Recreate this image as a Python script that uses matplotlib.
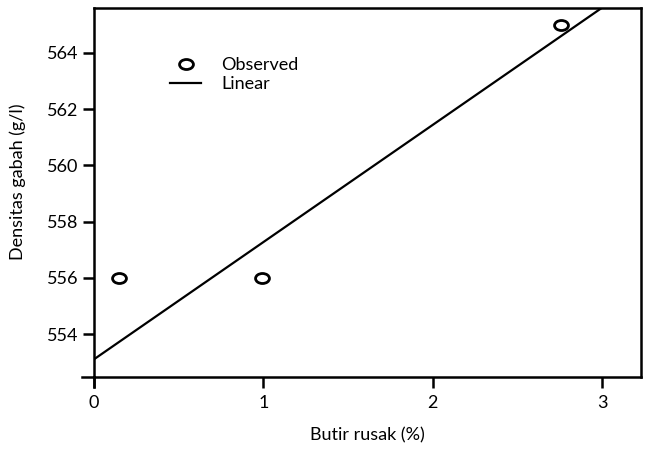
import numpy as np
import matplotlib
matplotlib.use('Agg')
import matplotlib.pyplot as plt
from matplotlib.path import Path
from matplotlib.transforms import Affine2D

plt.rcParams.update({'font.size': 13, 'font.family': ['Lato', 'DejaVu Sans']})

# observed points
butir_rusak = [0.15, 0.99, 2.76]
densitas = [556.0, 556.0, 565.0]

# linear fit (intercept, slope)
intercept = 553.1
slope = 4.17

xticks = [0, 1, 2, 3]
yticks = [554, 556, 558, 560, 562, 564]

# slightly flattened open circle, like the SPSS marker
oval = Path.unit_circle().transformed(Affine2D().scale(1.0, 0.72))

fig = plt.figure(figsize=(6.47, 4.49), dpi=100)
ax = fig.add_axes([94 / 647, 1 - 377 / 449, (641 - 94) / 647, (377 - 8) / 449])

xmin, xmax = 0, 3.23
ymin, ymax = 552.47, 565.6

xs = np.array([xmin, xmax])
ax.plot(xs, intercept + slope * xs, color='black', lw=1.6, label='Linear', zorder=2)
ax.plot(butir_rusak, densitas, ls='none', marker=oval, ms=10, mfc='white', mec='black',
        mew=2, label='Observed', zorder=3)

ax.set_xlim(xmin, xmax)
ax.set_ylim(ymin, ymax)
ax.set_xticks(xticks)
ax.set_yticks(yticks)

for s in ax.spines.values():
    s.set_linewidth(1.8)
ax.tick_params(direction='out', length=8, width=1.8, labelsize=13, pad=3)
ax.tick_params(axis='x', pad=5)

# axis lines crossing past the origin
ax.plot([xmin - 0.07, xmin], [ymin, ymin], color='black', lw=1.8, clip_on=False)
ax.plot([xmin, xmin], [ymin, ymin - 0.36], color='black', lw=1.8, clip_on=False)

ax.set_xlabel('Butir rusak (%)', fontsize=13)
ax.set_ylabel('Densitas gabah (g/l)', fontsize=13)
ax.xaxis.set_label_coords(0.5, -0.135)
ax.yaxis.set_label_coords(-0.125, 0.53)

handles, labels = ax.get_legend_handles_labels()
ax.legend(handles[::-1], labels[::-1], loc='upper left', bbox_to_anchor=(0.11, 0.91),
          frameon=False, fontsize=13, handlelength=1.7, handletextpad=1.1,
          labelspacing=0.15)

fig.savefig('out.png', dpi=100)
